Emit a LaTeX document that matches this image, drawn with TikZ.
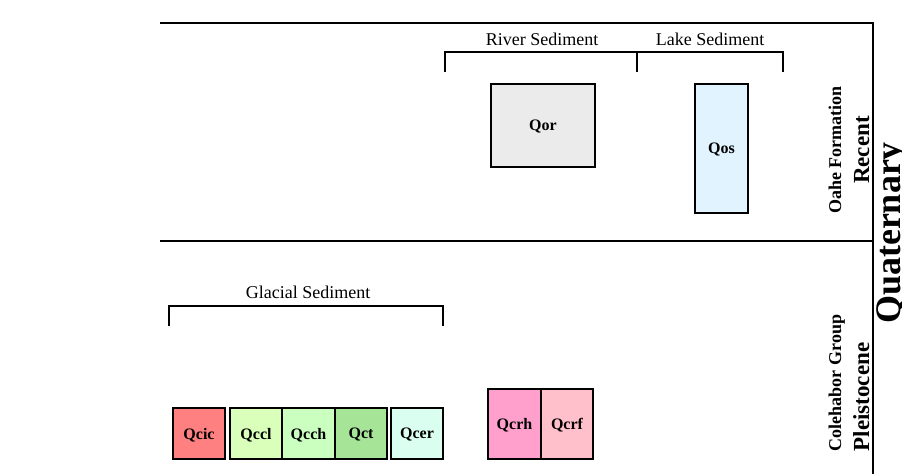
\documentclass[tikz,border=0pt]{standalone}
\usepackage{fontspec}
\setmainfont{Liberation Serif}
\begin{document}
\begin{tikzpicture}[x=1pt,y=1pt,
  rule/.style={line width=1.6pt},
  brk/.style={line width=1.4pt},
  unit/.style={draw,line width=1.4pt,inner sep=0pt,text depth=0pt,font=\fontsize{16}{18}\selectfont\bfseries},
  lbl/.style={inner sep=0pt,font=\fontsize{18}{20}\selectfont},
  side/.style={rotate=90,anchor=base,inner sep=0pt,font=\fontsize{18}{20}\selectfont\bfseries},
  epoch/.style={rotate=90,anchor=base,inner sep=0pt,font=\fontsize{23}{26}\selectfont\bfseries}]
\useasboundingbox (0,0) rectangle (902,-474);
% frame
\coordinate (tl) at (160,-23);
\coordinate (tr) at (873,-23);
\coordinate (ml) at (160,-241);
\coordinate (mr) at (873,-241);
\coordinate (br) at (873,-474);
\draw[rule] (tl) -- (tr) -- (br);
\draw[rule] (ml) -- (mr);
% brackets
\draw[brk] (445,-72) -- (445,-52) -- (783,-52) -- (783,-72);
\draw[brk] (637,-52) -- (637,-72);
\draw[brk] (169,-326) -- (169,-306) -- (443,-306) -- (443,-326);
\node[lbl] (river) at (542,-39) {River Sediment};
\node[lbl] (lake) at (710,-39) {Lake Sediment};
\node[lbl] (glacial) at (308,-292) {Glacial Sediment};
% units
\node[unit,fill={rgb,255:red,235;green,235;blue,235},minimum width=104pt,minimum height=83pt] (qor) at (543,-125.5) {Qor};
\node[unit,fill={rgb,255:red,224;green,243;blue,255},minimum width=53pt,minimum height=129pt] (qos) at (721.5,-148.5) {Qos};
\node[unit,fill={rgb,255:red,255;green,128;blue,128},minimum width=52pt,minimum height=51pt] (qcic) at (199,-433.5) {Qcic};
\node[unit,fill={rgb,255:red,218;green,255;blue,186},minimum width=52pt,minimum height=51pt] (qccl) at (256,-433.5) {Qccl};
\node[unit,fill={rgb,255:red,202;green,255;blue,192},minimum width=53pt,minimum height=51pt] (qcch) at (308.5,-433.5) {Qcch};
\node[unit,fill={rgb,255:red,166;green,229;blue,152},minimum width=52pt,minimum height=51pt] (qct) at (361,-433.5) {Qct};
\node[unit,fill={rgb,255:red,218;green,255;blue,240},minimum width=52pt,minimum height=51pt] (qcer) at (417,-433.5) {Qcer};
\node[unit,fill={rgb,255:red,255;green,160;blue,204},minimum width=53pt,minimum height=70pt] (qcrh) at (514.5,-424) {Qcrh};
\node[unit,fill={rgb,255:red,255;green,192;blue,204},minimum width=52pt,minimum height=70pt] (qcrf) at (567,-424) {Qcrf};
% side labels
\node[side] (oahe) at (841,-150) {Oahe Formation};
\node[epoch] (recent) at (869,-150) {Recent};
\node[side] (cole) at (841,-383) {Colehabor Group};
\node[epoch] (pleis) at (869,-397) {Pleistocene};
\node[rotate=90,anchor=base,inner sep=0pt,font=\fontsize{36}{40}\selectfont\bfseries] (quat) at (900,-233) {Quaternary};
\end{tikzpicture}
\end{document}
